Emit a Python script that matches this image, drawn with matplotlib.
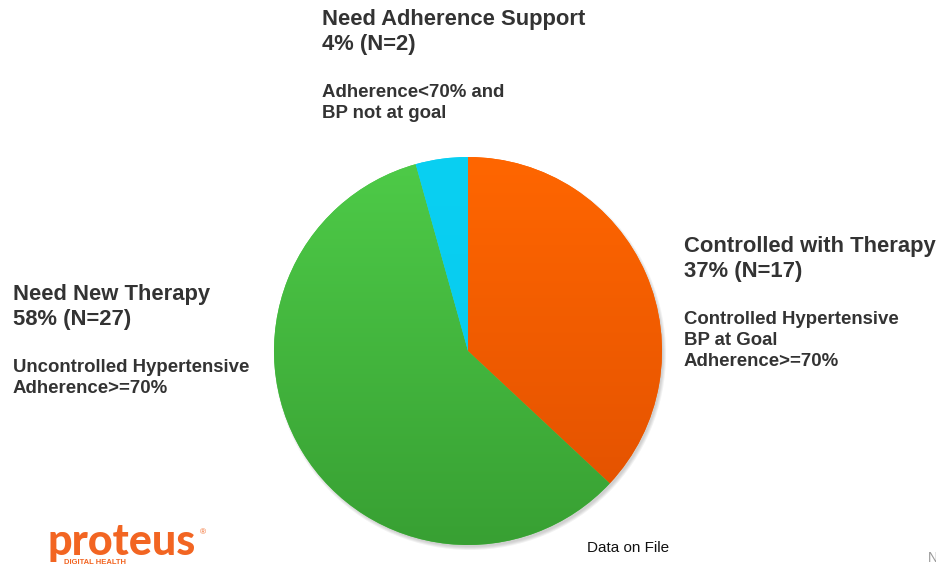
import matplotlib
matplotlib.use("Agg")
import matplotlib.pyplot as plt
from matplotlib.patches import Circle
from matplotlib.colors import LinearSegmentedColormap
import numpy as np

# data
labels = ["Controlled with Therapy", "Need New Therapy", "Need Adherence Support"]
counts = [17, 27, 2]
pcts = ["37%", "58%", "4%"]
details = [
    ["Controlled Hypertensive", "BP at Goal", "Adherence>=70%"],
    ["Uncontrolled Hypertensive", "Adherence>=70%"],
    ["Adherence<70% and", "BP not at goal"],
]
# top/bottom colours of each slice gradient
grads = [("#ff6600", "#e05000"), ("#4ecb48", "#38a033"), ("#0ad0f2", "#05c8ee")]

W, H = 937, 566
fig = plt.figure(figsize=(W / 100, H / 100), dpi=100)
ax = fig.add_axes([0, 0, 1, 1])

cx, cy, r = 468, H - 351, 194

# soft shadow
for k, a in enumerate([0.05, 0.05, 0.05, 0.04]):
    ax.add_patch(Circle((cx + 2, cy - 3), r + 2 - k, color="black", alpha=a, lw=0, zorder=1))

wedges, _ = ax.pie(counts, center=(cx, cy), radius=r, startangle=90,
                   counterclock=False, wedgeprops=dict(lw=0), frame=True)

grad = np.linspace(0, 1, 256).reshape(-1, 1)
for w, (c1, c2) in zip(wedges, grads):
    w.set_facecolor(c1)
    w.set_zorder(2)
    cmap = LinearSegmentedColormap.from_list("g", [c1, c2])
    im = ax.imshow(grad, cmap=cmap, extent=(cx - r, cx + r, cy - r, cy + r),
                   origin="upper", aspect="auto", zorder=3)
    im.set_clip_path(w)
ax.set_xlim(0, W)
ax.set_ylim(0, H)
ax.set_aspect("equal")
ax.axis("off")

fam = ["Liberation Sans", "DejaVu Sans"]
tc = "#333333"

def block(x, ytop, title, pct, n, lines):
    ax.text(x, H - ytop, title, fontsize=15.8, fontweight="bold", color=tc,
            family=fam, va="top", ha="left")
    ax.text(x, H - ytop - 25, f"{pct} (N={n})", fontsize=15.8, fontweight="bold",
            color=tc, family=fam, va="top", ha="left")
    for i, s in enumerate(lines):
        ax.text(x, H - ytop - 75 - 21 * i, s, fontsize=13.4, fontweight="bold",
                color=tc, family=fam, va="top", ha="left")

block(684, 236, labels[0], pcts[0], counts[0], details[0])
block(13, 284, labels[1], pcts[1], counts[1], details[1])
block(322, 9, labels[2], pcts[2], counts[2], details[2])

ax.text(587, H - 548, "Data on File", fontsize=11, color="#111111",
        family=fam, va="center", ha="left")
ax.text(928, H - 558, "N", fontsize=10, color="#999999", family=fam,
        va="center", ha="left")

# logo
ax.text(48, H - 542, "proteus", fontsize=31, fontweight="black", color="#f26522",
        family=["Lato", "DejaVu Sans"], va="center", ha="left")
ax.text(200, H - 533, "®", fontsize=6, color="#f26522", family=fam, va="center")
ax.text(64, H - 563, "DIGITAL HEALTH", fontsize=5.5, fontweight="bold", color="#f26522",
        family=fam, va="center", ha="left")

fig.savefig("out.png", dpi=100)
